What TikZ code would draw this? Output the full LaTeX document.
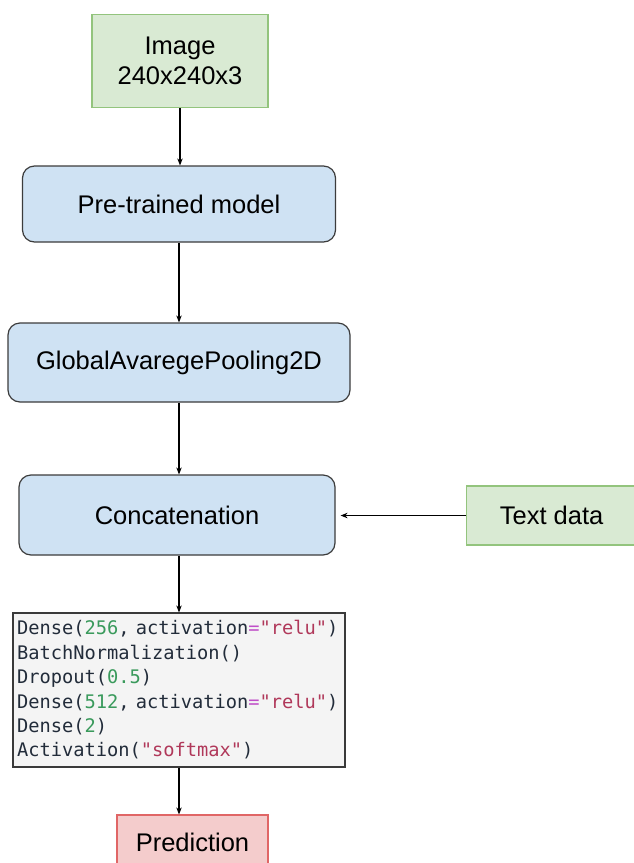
\documentclass[tikz,border=0pt]{standalone}
\usepackage{fontspec}
\setmainfont{Liberation Sans}
\setmonofont{DejaVu Sans Mono}
\usetikzlibrary{arrows.meta}
\definecolor{greenfill}{HTML}{D9EAD3}
\definecolor{greenline}{HTML}{93C47D}
\definecolor{bluefill}{HTML}{CFE2F3}
\definecolor{blueline}{HTML}{3C3C3C}
\definecolor{redfill}{HTML}{F4CCCC}
\definecolor{redline}{HTML}{E06666}
\definecolor{codefill}{HTML}{F4F4F4}
\definecolor{codeline}{HTML}{3A3A3A}
\definecolor{codetext}{HTML}{222C3A}
\definecolor{codenum}{HTML}{3A9A5C}
\definecolor{codestr}{HTML}{B0385A}
\definecolor{codeop}{HTML}{C04FC8}
\newcommand{\cnum}[1]{\textcolor{codenum}{#1}}
\newcommand{\cstr}[1]{\textcolor{codestr}{#1}}
\newcommand{\cop}[1]{\textcolor{codeop}{#1}}
\begin{document}
\begin{tikzpicture}[x=1pt,y=-1pt,
  label/.style={font=\fontsize{25.5}{30}\selectfont, text=black, align=center, inner sep=0pt},
  inputbox/.style={label, draw=greenline, fill=greenfill, line width=1.2pt},
  layerbox/.style={label, draw=blueline, fill=bluefill, line width=1.2pt, rounded corners=12pt},
  outbox/.style={label, draw=redline, fill=redfill, line width=1.2pt},
  codebox/.style={draw=codeline, fill=codefill, line width=1.2pt, align=left, inner xsep=4pt,
    font=\ttfamily\fontsize{18.7}{24.4}\selectfont, text=codetext},
  arr/.style={draw=black, line width=1.2pt, -{Stealth[length=7pt,width=5.5pt]}}
]
\useasboundingbox (0,0) rectangle (634,863);
\fill[white] (0,0) rectangle (634,863);

% image input and the model layers
\node[inputbox, minimum width=176pt, minimum height=93pt] (img) at (180,61) {Image\\240x240x3};
\node[layerbox, minimum width=313pt, minimum height=76pt] (pre) at (179,204) {Pre-trained model};
\node[layerbox, minimum width=342pt, minimum height=79pt] (gap) at (179,362.5) {GlobalAvaregePooling2D};
\node[layerbox, minimum width=316pt, minimum height=80pt] (cat) at (177,515) {Concatenation};

% text input, extends past the right edge
\node[inputbox, minimum width=180pt, minimum height=59pt, anchor=west] (txt) at (466,515.5) {\hspace*{-10pt}Text data};

% classifier head
\node[codebox, minimum width=332pt, minimum height=154pt, text width=324pt] (code) at (179,690) {%
Dense(\cnum{256},~activation\cop{=}\cstr{"relu"})\\
BatchNormalization()\\
Dropout(\cnum{0.5})\\
Dense(\cnum{512},~activation\cop{=}\cstr{"relu"})\\
Dense(\cnum{2})\\
Activation(\cstr{"softmax"})};

\node[outbox, minimum width=151pt, minimum height=62pt] (pred) at (192.5,846) {\raisebox{7pt}{Prediction}};

% connectors
\draw[arr] (img) -- (img.south |- pre.north);
\draw[arr] (pre) -- (pre.south |- gap.north);
\draw[arr] (gap) -- (gap.south |- cat.north);
\draw[arr, shorten >=5pt] (txt.west) -- (txt.west -| cat.east);
\draw[arr] (cat.south -| code.north) -- (code.north);
\draw[arr] (code.south) -- (code.south |- pred.north);
\end{tikzpicture}
\end{document}
